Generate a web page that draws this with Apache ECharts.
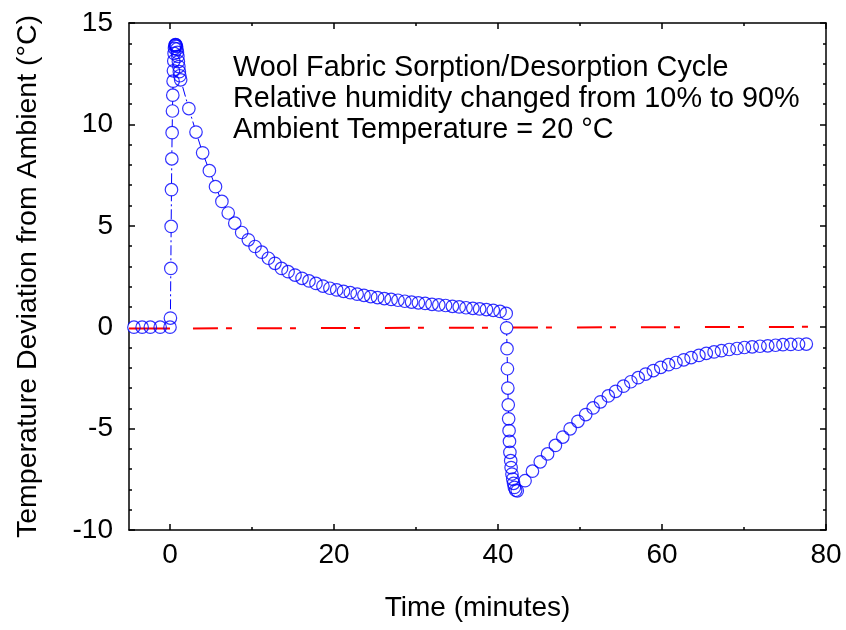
<!DOCTYPE html>
<html>
<head>
<meta charset="utf-8">
<script src="https://cdn.jsdelivr.net/npm/echarts@6/dist/echarts.min.js"></script>
<style>
  html, body { margin: 0; padding: 0; background: #fff; }
  #chart { width: 846px; height: 630px; }
</style>
</head>
<body>
<div id="chart"></div>
<script>
// measured temperature deviation, [time (min), deviation (°C)]
var baseline = [[-4.4, 0], [-3.4, 0], [-2.4, 0], [-1.2, 0], [0, 0]];
var sorption = [
  [0.05, 0.45], [0.1, 2.9], [0.14, 4.97], [0.18, 6.78], [0.22, 8.3], [0.26, 9.59],
  [0.3, 10.66], [0.34, 11.44], [0.38, 12.13], [0.42, 12.64], [0.46, 13.13], [0.5, 13.5],
  [0.55, 13.75], [0.6, 13.88], [0.66, 13.93], [0.72, 13.92], [0.78, 13.85], [0.84, 13.72],
  [0.9, 13.55], [0.96, 13.35], [1.02, 13.1], [1.08, 12.85], [1.14, 12.6], [1.2, 12.4],
  [1.3, 12.2]
];
var decay = [
  [2.3, 10.78], [3.17, 9.62], [3.98, 8.6], [4.8, 7.72], [5.55, 6.93], [6.33, 6.2],
  [7.1, 5.63], [7.9, 5.13], [8.74, 4.67], [9.55, 4.31], [10.37, 3.98], [11.18, 3.7],
  [12.0, 3.4], [12.8, 3.15], [13.6, 2.9], [14.4, 2.74], [15.25, 2.57], [16.1, 2.41],
  [16.95, 2.28], [17.8, 2.16], [18.65, 2.03], [19.5, 1.92], [20.33, 1.84], [21.16, 1.77],
  [21.99, 1.7], [22.82, 1.63], [23.65, 1.57], [24.48, 1.51], [25.31, 1.46], [26.14, 1.41],
  [26.97, 1.37], [27.8, 1.33], [28.63, 1.28], [29.46, 1.24], [30.29, 1.2], [31.12, 1.17],
  [31.95, 1.13], [32.78, 1.1], [33.61, 1.07], [34.44, 1.03], [35.27, 1.0], [36.1, 0.96],
  [36.93, 0.93], [37.76, 0.9], [38.59, 0.87], [39.42, 0.83], [40.25, 0.78], [41.0, 0.68]
];
var desorption = [
  [41.05, -0.03], [41.1, -1.06], [41.15, -2.05], [41.2, -3.0], [41.25, -3.83], [41.3, -4.52],
  [41.35, -5.1], [41.4, -5.63], [41.45, -6.17], [41.55, -6.58], [41.6, -6.92], [41.7, -7.24],
  [41.8, -7.49], [41.9, -7.7], [42.0, -7.9], [42.15, -8.04], [42.35, -8.07]
];
var recovery = [
  [43.3, -7.57], [44.2, -7.1], [45.15, -6.64], [46.05, -6.25], [47.0, -5.83], [47.9, -5.42],
  [48.8, -5.01], [49.75, -4.64], [50.7, -4.31], [51.6, -3.98], [52.5, -3.68], [53.45, -3.39],
  [54.35, -3.16], [55.3, -2.91], [56.2, -2.69], [57.1, -2.49], [58.0, -2.31], [58.95, -2.14],
  [59.85, -1.98], [60.8, -1.85], [61.7, -1.74], [62.65, -1.61], [63.55, -1.5], [64.5, -1.39],
  [65.4, -1.29], [66.35, -1.22], [67.25, -1.16], [68.2, -1.1], [69.15, -1.05], [70.05, -1.0],
  [71.0, -0.97], [71.95, -0.94], [72.9, -0.92], [73.85, -0.89], [74.75, -0.86], [75.7, -0.85],
  [76.65, -0.84], [77.6, -0.83]
];
// ambient reference line
var ambientLead = [[-5, -0.06], [0, -0.06]];
var ambient = [[2.8, -0.06], [80, 0.02]];

var xMajor = [0, 20, 40, 60, 80];
var xMinor = [10, 30, 50, 70];
var notes = [
  'Wool Fabric Sorption/Desorption Cycle',
  'Relative humidity changed from 10% to 90%',
  'Ambient Temperature = 20 °C'
];

var FONT = 'Liberation Sans, Arial, sans-serif';
var FS = 28;
var measured = baseline.concat(sorption, decay, desorption, recovery);

var chart = echarts.init(document.getElementById('chart'));

function xAxisCfg(pos, ticks, len, labels, line) {
  return {
    type: 'value', position: pos, min: -5, max: 80,
    axisLine: { show: line, onZero: false, lineStyle: { color: '#000', width: 1.5 } },
    axisTick: { show: true, inside: true, length: len, customValues: ticks,
      lineStyle: { color: '#000', width: 1.5 } },
    axisLabel: labels ? { customValues: ticks, margin: 11, color: '#000',
      fontSize: FS, fontFamily: FONT } : { show: false },
    splitLine: { show: false }
  };
}

var xAxes = [
  xAxisCfg('bottom', xMajor, 6, true, true),
  xAxisCfg('bottom', xMinor, 3, false, false),
  xAxisCfg('top', xMajor, 6, false, true),
  xAxisCfg('top', xMinor, 3, false, false)
];
xAxes[0].name = 'Time (minutes)';
xAxes[0].nameLocation = 'middle';
xAxes[0].nameGap = 64;
xAxes[0].nameTextStyle = { color: '#000', fontSize: FS, fontFamily: FONT };

function yAxisCfg(pos, labels) {
  return {
    type: 'value', position: pos, min: -10, max: 15, interval: 5,
    axisLine: { show: true, onZero: false, lineStyle: { color: '#000', width: 1.5 } },
    axisTick: { show: true, inside: true, length: 6, lineStyle: { color: '#000', width: 1.5 } },
    minorTick: { show: true, splitNumber: 5, length: 3, lineStyle: { color: '#000', width: 1.5 } },
    axisLabel: labels ? { margin: 16, color: '#000', fontSize: FS, fontFamily: FONT } : { show: false },
    splitLine: { show: false }
  };
}
var yAxes = [yAxisCfg('left', true), yAxisCfg('right', false)];
yAxes[0].name = 'Temperature Deviation from Ambient (°C)';
yAxes[0].nameLocation = 'middle';
yAxes[0].nameGap = 86;
yAxes[0].nameTextStyle = { color: '#000', fontSize: 28.5, fontFamily: FONT };

chart.setOption({
  animation: false,
  backgroundColor: '#fff',
  grid: { left: 129, right: 20, top: 23, bottom: 100 },
  xAxis: xAxes,
  yAxis: yAxes,
  graphic: [{
    type: 'text', left: 233, top: 53,
    style: { text: notes.join('\n'), fill: '#000', fontSize: 28.8, fontFamily: FONT, lineHeight: 31 }
  }],
  series: [
    {
      type: 'line', data: ambientLead, symbol: 'none', z: 3,
      lineStyle: { color: '#ff0000', width: 2 }
    },
    {
      type: 'line', data: ambient, symbol: 'none', z: 1,
      lineStyle: { color: '#ff0000', width: 2, type: [25, 8, 6, 25] }
    },
    {
      // connecting line, masked inside each marker
      type: 'line', data: measured, symbol: 'circle', symbolSize: 12, z: 2,
      itemStyle: { color: '#fff', borderWidth: 0 },
      lineStyle: { color: '#0000ff', width: 1, type: [10, 3, 2, 3] }
    },
    {
      // hollow rings drawn over the line
      type: 'scatter', data: measured, symbol: 'circle', symbolSize: 12.5, z: 10,
      itemStyle: { color: 'rgba(0,0,0,0)', borderColor: '#0000ff', borderWidth: 1.2 }
    }
  ]
});
</script>
</body>
</html>
